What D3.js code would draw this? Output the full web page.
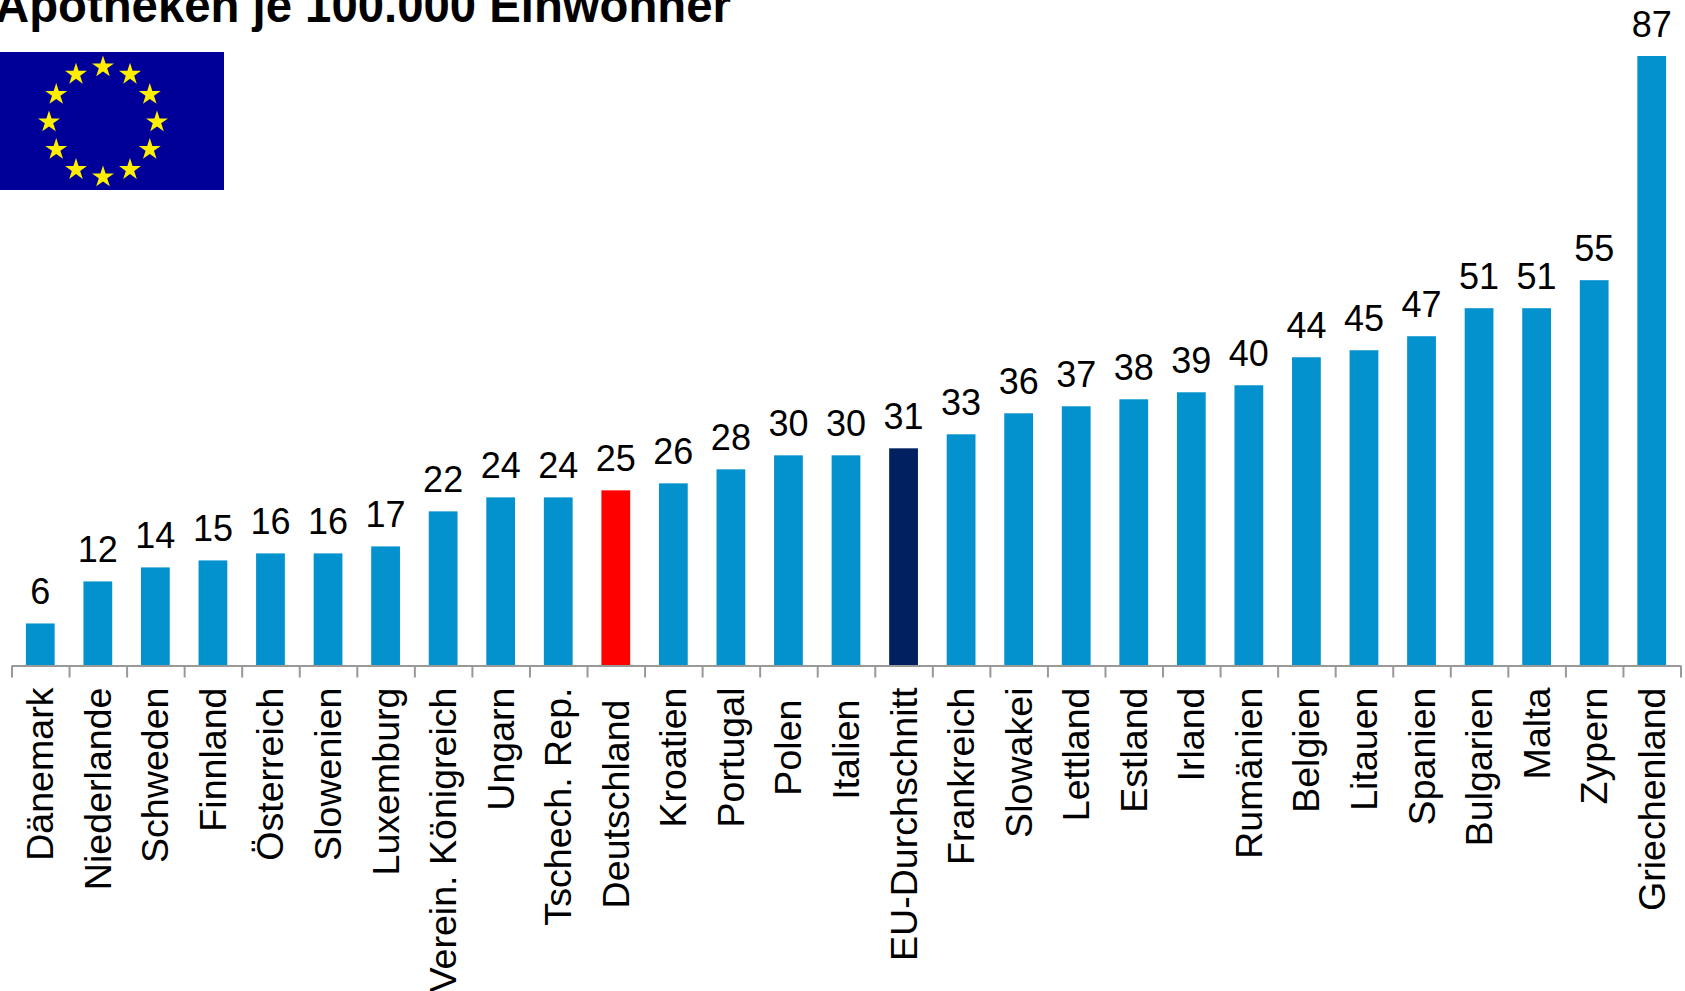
<!DOCTYPE html>
<html>
<head>
<meta charset="utf-8">
<script src="https://cdn.jsdelivr.net/npm/d3@7"></script>
<style>
  html, body { margin: 0; padding: 0; background: #fff; overflow: hidden; }
  svg { display: block; font-family: "Liberation Sans", Arial, sans-serif; }
</style>
</head>
<body>
<svg width="1685" height="991"></svg>
<script>
var titleText = "Apotheken je 100.000 Einwohner";

var countries = ["Dänemark", "Niederlande", "Schweden", "Finnland", "Österreich", "Slowenien",
  "Luxemburg", "Verein. Königreich", "Ungarn", "Tschech. Rep.", "Deutschland", "Kroatien",
  "Portugal", "Polen", "Italien", "EU-Durchschnitt", "Frankreich", "Slowakei", "Lettland",
  "Estland", "Irland", "Rumänien", "Belgien", "Litauen", "Spanien", "Bulgarien", "Malta",
  "Zypern", "Griechenland"];

var pharmacies = [6, 12, 14, 15, 16, 16, 17, 22, 24, 24, 25, 26, 28, 30, 30, 31, 33, 36, 37,
  38, 39, 40, 44, 45, 47, 51, 51, 55, 87];

// labels that sit a bit lower under the axis
var loweredLabels = ["Deutschland", "Polen", "Italien"];

var svg = d3.select("svg"),
    margin = {top: 56, left: 11.5, right: 4.5, bottom: 325.5},
    width = +svg.attr("width") - margin.left - margin.right,
    height = +svg.attr("height") - margin.top - margin.bottom;

var x = d3.scaleBand().domain(countries).range([0, width]).paddingInner(0.5).paddingOuter(0.25),
    edge = d3.scaleLinear().domain([0, countries.length]).range([0, width]),
    y = d3.scaleLinear().domain([0, 87]).range([height, 0]);

function barColor(name) {
  if (name === "Deutschland") return "#ff0000";
  if (name === "EU-Durchschnitt") return "#002060";
  return "#0392ce";
}

svg.append("text")
    .attr("x", -5)
    .attr("y", 22)
    .attr("font-size", 47.3)
    .attr("font-weight", "bold")
    .attr("fill", "#000")
    .text(titleText);

// EU flag
var flag = svg.append("g");
flag.append("rect")
    .attr("x", 0).attr("y", 52)
    .attr("width", 224).attr("height", 138)
    .attr("fill", "#000099");

var star = d3.symbol().type(d3.symbolStar).size(150);
flag.selectAll("path")
  .data(d3.range(12))
  .enter().append("path")
    .attr("d", star)
    .attr("fill", "#ffee00")
    .attr("transform", function(d) {
      var a = d * Math.PI / 6;
      return "translate(" + (103 + 54 * Math.sin(a)) + "," + (122 - 55 * Math.cos(a)) + ")";
    });

var g = svg.append("g")
    .attr("transform", "translate(" + margin.left + "," + margin.top + ")");

g.selectAll(".bar")
  .data(countries)
  .enter().append("rect")
    .attr("class", "bar")
    .attr("x", function(d) { return x(d); })
    .attr("y", function(d, i) { return y(pharmacies[i]); })
    .attr("width", x.bandwidth())
    .attr("height", function(d, i) { return height - y(pharmacies[i]); })
    .attr("fill", function(d) { return barColor(d); });

g.selectAll(".value")
  .data(countries)
  .enter().append("text")
    .attr("class", "value")
    .attr("x", function(d) { return x(d) + x.bandwidth() / 2; })
    .attr("y", function(d, i) { return y(pharmacies[i]) - 19; })
    .attr("text-anchor", "middle")
    .attr("font-size", 36)
    .attr("fill", "#000")
    .text(function(d, i) { return pharmacies[i]; });

// tick marks sit on the band edges, so they get their own axis
var tickAxis = g.append("g")
    .attr("transform", "translate(0," + height + ")")
    .call(d3.axisBottom(edge)
      .tickValues(d3.range(countries.length + 1))
      .tickSize(12)
      .tickSizeOuter(0)
      .tickFormat(""));
tickAxis.selectAll("line, path")
    .attr("stroke", "#999")
    .attr("stroke-width", 2);

var labelAxis = g.append("g")
    .attr("transform", "translate(0," + height + ")")
    .call(d3.axisBottom(x).tickSize(0));
labelAxis.select(".domain").remove();
labelAxis.attr("font-size", null).attr("font-family", null);
labelAxis.selectAll("text")
    .attr("font-size", 37.6)
    .attr("fill", "#000")
    .attr("text-anchor", "end")
    .attr("dy", null)
    .attr("y", null)
    .attr("transform", function(d) {
      var offset = loweredLabels.indexOf(d) >= 0 ? 34 : 22;
      return "translate(13,"+ offset + ") rotate(-90)";
    });
</script>
</body>
</html>
